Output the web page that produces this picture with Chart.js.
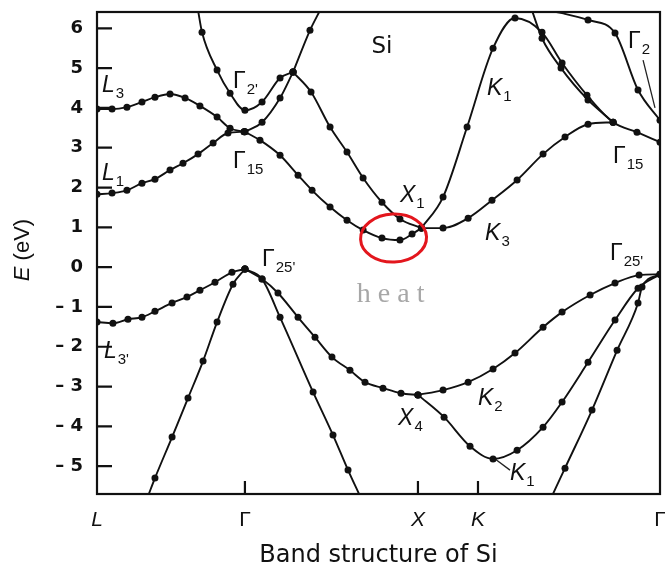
<!DOCTYPE html>
<html>
<head>
<meta charset="utf-8">
<script src="https://cdn.jsdelivr.net/npm/chart.js@4.4.1/dist/chart.umd.min.js"></script>
<style>
  body { margin: 0; background: #fff; }
  #wrap { width: 665px; height: 571px; }
</style>
</head>
<body>
<div id="wrap"><canvas id="bandChart" width="665" height="571"></canvas></div>
<script>
// positions of the symmetry points along the path L - Γ - X - K - Γ
const kTicks = [0, 0.855, 1.855, 2.202, 3.254];
const kTickLabels = ['L', 'Γ', 'X', 'K', 'Γ'];
const energyTicks = [-5, -4, -3, -2, -1, 0, 1, 2, 3, 4, 5, 6];

// valence bands, points are [k, E in eV]
const bandL3p = [[0, -1.38], [0.092, -1.41], [0.179, -1.31], [0.260, -1.26], [0.335, -1.11], [0.434, -0.90], [0.520, -0.75], [0.595, -0.58], [0.682, -0.38], [0.780, -0.13], [0.855, -0.05]];
const bandLGlow = [[0.295, -5.75], [0.335, -5.30], [0.434, -4.27], [0.526, -3.29], [0.613, -2.36], [0.694, -1.38], [0.786, -0.43], [0.855, -0.05]];
const bandGXsteep = [[0.855, -0.05], [0.954, -0.30], [1.058, -1.26], [1.249, -3.14], [1.364, -4.22], [1.451, -5.10], [1.520, -5.75]];
const bandGX4 = [[0.855, -0.05], [0.954, -0.30], [1.046, -0.65], [1.162, -1.26], [1.260, -1.76], [1.358, -2.26], [1.462, -2.59], [1.549, -2.89], [1.653, -3.04], [1.757, -3.17], [1.855, -3.21]];
const bandK2 = [[1.855, -3.21], [2.000, -3.09], [2.145, -2.89], [2.289, -2.56], [2.416, -2.16], [2.578, -1.51], [2.688, -1.13], [2.850, -0.70], [2.994, -0.40], [3.133, -0.20], [3.254, -0.18]];
const bandK1low = [[1.855, -3.21], [2.006, -3.77], [2.156, -4.50], [2.289, -4.82], [2.428, -4.60], [2.578, -4.02], [2.688, -3.39], [2.838, -2.39], [2.994, -1.33], [3.127, -0.53], [3.254, -0.18]];
const bandKGlow = [[2.630, -5.75], [2.705, -5.05], [2.861, -3.59], [3.006, -2.09], [3.127, -0.90], [3.150, -0.50], [3.254, -0.18]];

// conduction bands
const bandL1 = [[0, 1.83], [0.087, 1.86], [0.173, 1.93], [0.260, 2.11], [0.335, 2.21], [0.422, 2.44], [0.497, 2.61], [0.584, 2.84], [0.671, 3.12], [0.757, 3.37], [0.850, 3.40]];
const bandL3 = [[0, 3.97], [0.087, 3.97], [0.173, 4.02], [0.260, 4.15], [0.335, 4.27], [0.422, 4.35], [0.509, 4.25], [0.595, 4.05], [0.694, 3.77], [0.769, 3.49], [0.850, 3.40]];
const bandG2p = [[0.584, 6.45], [0.607, 5.90], [0.694, 4.95], [0.769, 4.37], [0.855, 3.94], [0.954, 4.15], [1.058, 4.75], [1.133, 4.90]];
const bandG15up = [[0.855, 3.40], [0.954, 3.64], [1.058, 4.25], [1.133, 4.90]];
const bandGXtop = [[1.133, 4.90], [1.231, 5.95], [1.289, 6.45]];
const bandX1up = [[1.133, 4.90], [1.237, 4.40], [1.347, 3.52], [1.445, 2.89], [1.538, 2.24], [1.647, 1.63], [1.751, 1.21], [1.875, 0.98]];
const bandX1low = [[0.855, 3.40], [0.942, 3.19], [1.058, 2.81], [1.162, 2.31], [1.243, 1.93], [1.347, 1.51], [1.445, 1.18], [1.538, 0.93], [1.647, 0.73], [1.751, 0.68], [1.821, 0.83], [1.875, 0.98]];
const bandK1up = [[1.875, 0.98], [2.000, 1.76], [2.139, 3.52], [2.289, 5.50], [2.416, 6.26], [2.572, 5.90], [2.688, 5.13], [2.832, 4.32], [2.983, 3.64], [3.121, 3.39], [3.254, 3.14]];
const bandPair = [[2.514, 6.45], [2.572, 5.75], [2.682, 5.00], [2.838, 4.20], [2.983, 3.64]];
const bandK3 = [[1.875, 0.98], [2.000, 0.98], [2.145, 1.23], [2.283, 1.68], [2.428, 2.19], [2.578, 2.84], [2.705, 3.27], [2.838, 3.59], [2.983, 3.64]];
const bandG2 = [[2.600, 6.45], [2.688, 6.38], [2.838, 6.21], [2.994, 5.88], [3.127, 4.45], [3.254, 3.69]];

// short leader lines from labels to their points
const leaderG2 = [[3.156, 5.20], [3.225, 4.00]];
const leaderK1 = [[2.301, -4.82], [2.387, -5.10]];

const bands = [bandL3p, bandLGlow, bandGXsteep, bandGX4, bandK2, bandK1low, bandKGlow,
  bandL1, bandL3, bandG2p, bandG15up, bandGXtop, bandX1up, bandX1low, bandK1up, bandPair, bandK3, bandG2];

// point labels (main letter, subscript, position in k / E)
const bandLabels = [
  { main: 'L', sub: '3', k: 0.029, e: 4.40 },
  { main: 'L', sub: '1', k: 0.029, e: 2.19 },
  { main: 'L', sub: "3'", k: 0.040, e: -2.29 },
  { main: 'Γ', sub: "2'", k: 0.786, e: 4.50 },
  { main: 'Γ', sub: '15', k: 0.786, e: 2.49 },
  { main: 'Γ', sub: "25'", k: 0.954, e: 0.03 },
  { main: 'X', sub: '1', k: 1.751, e: 1.63 },
  { main: 'K', sub: '3', k: 2.243, e: 0.68 },
  { main: 'K', sub: '1', k: 2.254, e: 4.32 },
  { main: 'Γ', sub: '2', k: 3.069, e: 5.50 },
  { main: 'Γ', sub: '15', k: 2.983, e: 2.61 },
  { main: 'Γ', sub: "25'", k: 2.965, e: 0.18 },
  { main: 'X', sub: '4', k: 1.740, e: -3.97 },
  { main: 'K', sub: '2', k: 2.202, e: -3.47 },
  { main: 'K', sub: '1', k: 2.387, e: -5.35 }
];

const toXY = pts => pts.map(p => ({ x: p[0], y: p[1] }));

const datasets = bands.map(b => ({
  data: toXY(b),
  borderColor: '#111',
  borderWidth: 1.9,
  backgroundColor: '#111',
  pointBackgroundColor: '#111',
  pointBorderWidth: 0,
  pointRadius: c => (c.raw && (c.raw.y > 6.3 || c.raw.y < -5.6)) ? 0 : 3.5,
  cubicInterpolationMode: 'monotone',
  fill: false
}));
[leaderG2, leaderK1].forEach(l => datasets.push({
  data: toXY(l), borderColor: '#222', borderWidth: 1.3, pointRadius: 0, fill: false
}));

function drawLabel(ctx, lab, px, py) {
  const italic = lab.main !== 'Γ';
  ctx.font = (italic ? 'italic ' : '') + '23px "Liberation Sans"';
  ctx.fillText(lab.main, px, py);
  const w = ctx.measureText(lab.main).width;
  ctx.font = '15px "Liberation Sans"';
  ctx.fillText(lab.sub, px + w + 1, py + 6);
}

const decorations = {
  id: 'decorations',
  afterDatasetsDraw(chart) {
    const { ctx, chartArea: a, scales: { x, y } } = chart;
    ctx.save();
    ctx.strokeStyle = '#111';
    ctx.lineWidth = 2.2;
    ctx.strokeRect(a.left, a.top, a.right - a.left, a.bottom - a.top);

    // tick marks point into the plot
    ctx.beginPath();
    energyTicks.forEach(v => {
      const py = y.getPixelForValue(v);
      ctx.moveTo(a.left, py);
      ctx.lineTo(a.left + 15, py);
    });
    kTicks.slice(1, -1).forEach(v => {
      const px = x.getPixelForValue(v);
      ctx.moveTo(px, a.bottom);
      ctx.lineTo(px, a.bottom - 13);
    });
    ctx.stroke();

    ctx.fillStyle = '#111';
    ctx.textAlign = 'left';
    ctx.textBaseline = 'alphabetic';
    bandLabels.forEach(lab => drawLabel(ctx, lab, x.getPixelForValue(lab.k), y.getPixelForValue(lab.e)));

    ctx.textAlign = 'center';
    ctx.textBaseline = 'middle';
    ctx.font = '23px "DejaVu Sans"';
    ctx.fillText('Si', x.getPixelForValue(1.647), y.getPixelForValue(5.53));

    // handwritten note
    ctx.fillStyle = 'rgba(130,130,130,0.7)';
    ctx.font = '28px "Liberation Serif"';
    ctx.letterSpacing = '7px';
    ctx.fillText('heat', x.getPixelForValue(1.694) + 4, y.getPixelForValue(-0.70));
    ctx.letterSpacing = '0px';

    // red circle around the conduction band minimum
    ctx.strokeStyle = '#e3161d';
    ctx.lineWidth = 3;
    ctx.beginPath();
    ctx.ellipse(x.getPixelForValue(1.714), y.getPixelForValue(0.73), 33, 24, -0.04, 0, Math.PI * 2);
    ctx.stroke();

    // y axis title, E in italics
    ctx.translate(23, 250);
    ctx.rotate(-Math.PI / 2);
    ctx.fillStyle = '#111';
    ctx.textAlign = 'left';
    ctx.font = 'italic 22px "Liberation Sans"';
    const eW = ctx.measureText('E ').width;
    ctx.font = '22px "Liberation Sans"';
    const rW = ctx.measureText('(eV)').width;
    const start = -(eW + rW) / 2;
    ctx.font = 'italic 22px "Liberation Sans"';
    ctx.fillText('E', start, 0);
    ctx.font = '22px "Liberation Sans"';
    ctx.fillText('(eV)', start + eW, 0);
    ctx.restore();
  }
};

new Chart(document.getElementById('bandChart').getContext('2d'), {
  type: 'line',
  data: { datasets: datasets },
  options: {
    responsive: false,
    devicePixelRatio: 1,
    animation: false,
    layout: { padding: { top: 12, right: 5, left: 0, bottom: 0 } },
    plugins: { legend: { display: false }, tooltip: { enabled: false } },
    scales: {
      x: {
        type: 'linear',
        min: 0,
        max: 3.254,
        grid: { display: false, drawTicks: false },
        border: { display: false },
        afterBuildTicks: s => { s.ticks = kTicks.map(v => ({ value: v })); },
        afterFit: s => { s.height = 77; s.paddingLeft = 0; s.paddingRight = 0; },
        ticks: {
          autoSkip: false,
          maxRotation: 0,
          padding: 14,
          color: '#111',
          font: c => ({ family: '"Liberation Sans"', size: 21, style: kTickLabels[c.index] === 'Γ' ? 'normal' : 'italic' }),
          callback: (v, i) => kTickLabels[i]
        },
        title: {
          display: true,
          text: 'Band structure of Si',
          color: '#111',
          font: { family: '"DejaVu Sans"', size: 24 },
          padding: { top: 0, bottom: 1 }
        }
      },
      y: {
        min: -5.7,
        max: 6.41,
        grid: { display: false, drawTicks: false },
        border: { display: false },
        afterBuildTicks: s => { s.ticks = energyTicks.map(v => ({ value: v })); },
        afterFit: s => { s.width = 97; s.paddingTop = 0; s.paddingBottom = 0; },
        ticks: {
          padding: 14,
          color: '#111',
          font: { family: '"DejaVu Sans"', size: 18, weight: 'bold' },
          callback: v => v < 0 ? '\u2013 ' + (-v) : String(v)
        }
      }
    }
  },
  plugins: [decorations]
});
</script>
</body>
</html>
